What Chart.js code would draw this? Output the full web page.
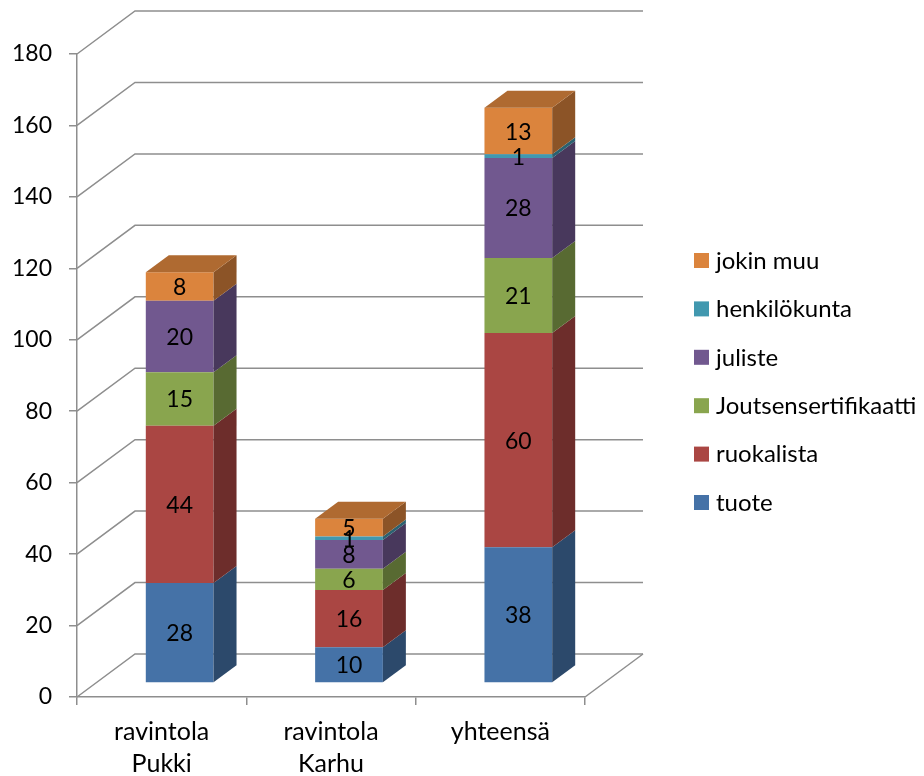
<!DOCTYPE html>
<html>
<head>
<meta charset="utf-8">
<script src="https://cdn.jsdelivr.net/npm/chart.js@4.4.0/dist/chart.umd.min.js"></script>
<style>
  html, body { margin: 0; padding: 0; background: #fff; }
  #wrap { width: 924px; height: 776px; }
</style>
</head>
<body>
<div id="wrap"><canvas id="barChart"></canvas></div>
<script>
const categories = [['ravintola', 'Pukki'], ['ravintola', 'Karhu'], 'yhteensä'];
const seriesNames = ['tuote', 'ruokalista', 'Joutsensertifikaatti', 'juliste', 'henkilökunta', 'jokin muu'];
const tuote = [28, 10, 38];
const ruokalista = [44, 16, 60];
const joutsen = [15, 6, 21];
const juliste = [20, 8, 28];
const henkilokunta = [0, 1, 1];
const jokinMuu = [8, 5, 13];
const yMin = 0, yMax = 180, yStep = 20;

const colors = ['#4572A7', '#AA4643', '#89A54E', '#71588F', '#4198AF', '#DB843D'];
const gridColor = '#8e8e8e';

// 3d geometry
const WALL = { dx: 58, dy: -43 };
const SHIFT = { dx: 18, dy: -14 };
const SIDE = { dx: 23, dy: -17 };

function shade(hex, f) {
    const n = parseInt(hex.slice(1), 16);
    const r = Math.round(((n >> 16) & 255) * f);
    const g = Math.round(((n >> 8) & 255) * f);
    const b = Math.round((n & 255) * f);
    return `rgb(${r}, ${g}, ${b})`;
}

function poly(ctx, pts, fill) {
    ctx.beginPath();
    ctx.moveTo(pts[0][0], pts[0][1]);
    for (let i = 1; i < pts.length; i++) ctx.lineTo(pts[i][0], pts[i][1]);
    ctx.closePath();
    ctx.fillStyle = fill;
    ctx.fill();
}

const threeD = {
    id: 'threeD',
    beforeDatasetsDraw(chart) {
        const { ctx, chartArea: a, scales: { y } } = chart;
        ctx.save();
        ctx.strokeStyle = gridColor;
        ctx.lineWidth = 1.5;
        y.ticks.forEach(t => {
            const py = y.getPixelForValue(t.value);
            ctx.beginPath();
            ctx.moveTo(a.left, py);
            ctx.lineTo(a.left + WALL.dx, py + WALL.dy);
            ctx.lineTo(a.right + WALL.dx, py + WALL.dy);
            ctx.stroke();
        });
        // floor right edge
        ctx.beginPath();
        ctx.moveTo(a.right, a.bottom);
        ctx.lineTo(a.right + WALL.dx, a.bottom + WALL.dy);
        ctx.stroke();
        ctx.restore();

        ctx.save();
        ctx.translate(SHIFT.dx, SHIFT.dy);
    },
    afterDatasetsDraw(chart) {
        const ctx = chart.ctx;
        const n = chart.data.labels.length;
        const dsCount = chart.data.datasets.length;
        for (let j = 0; j < n; j++) {
            let topIdx = -1;
            for (let i = 0; i < dsCount; i++) {
                if (chart.data.datasets[i].data[j] > 0) topIdx = i;
            }
            for (let i = 0; i < dsCount; i++) {
                const v = chart.data.datasets[i].data[j];
                if (!v) continue;
                const el = chart.getDatasetMeta(i).data[j];
                const { x, y, base, width } = el.getProps(['x', 'y', 'base', 'width'], true);
                const left = x - width / 2, right = x + width / 2;
                const c = colors[i];
                poly(ctx, [[right, y], [right + SIDE.dx, y + SIDE.dy], [right + SIDE.dx, base + SIDE.dy], [right, base]], shade(c, 0.64));
                if (i === topIdx) {
                    poly(ctx, [[left, y], [left + SIDE.dx, y + SIDE.dy], [right + SIDE.dx, y + SIDE.dy], [right, y]], shade(c, 0.8));
                }
            }
        }
        // value labels
        ctx.fillStyle = '#000';
        ctx.font = '23px Lato';
        ctx.textAlign = 'center';
        ctx.textBaseline = 'middle';
        for (let i = 0; i < dsCount; i++) {
            chart.getDatasetMeta(i).data.forEach((el, j) => {
                const v = chart.data.datasets[i].data[j];
                if (!v) return;
                const { x, y, base } = el.getProps(['x', 'y', 'base'], true);
                ctx.fillText(String(v), x, (y + base) / 2 + 1);
            });
        }
        ctx.restore();
    },
    afterDraw(chart) {
        const ctx = chart.ctx;
        const items = chart.data.datasets.map((ds, i) => ({ label: ds.label, color: colors[i] })).reverse();
        ctx.save();
        ctx.font = '24px Lato';
        ctx.textBaseline = 'middle';
        ctx.textAlign = 'left';
        items.forEach((it, k) => {
            const cy = 260 + k * 48.4;
            ctx.fillStyle = it.color;
            ctx.fillRect(694, cy - 7, 15, 15);
            ctx.fillStyle = '#000';
            ctx.fillText(it.label, 716, cy + 1);
        });
        ctx.restore();
    }
};

Chart.defaults.font.family = 'Lato';
Chart.defaults.color = '#000';

const seriesData = [tuote, ruokalista, joutsen, juliste, henkilokunta, jokinMuu];

new Chart(document.getElementById('barChart'), {
    type: 'bar',
    data: {
        labels: categories,
        datasets: seriesNames.map((name, i) => ({
            label: name,
            data: seriesData[i],
            backgroundColor: colors[i],
            borderWidth: 0,
            barPercentage: 0.8,
            categoryPercentage: 0.5
        }))
    },
    options: {
        responsive: true,
        maintainAspectRatio: false,
        animation: false,
        events: [],
        layout: { padding: { top: 54, right: 339, bottom: 0, left: 0 } },
        plugins: {
            legend: { display: false },
            tooltip: { enabled: false }
        },
        scales: {
            x: {
                stacked: true,
                afterFit: s => { s.height = 79; },
                grid: { drawOnChartArea: false, tickLength: 8, color: gridColor, lineWidth: 1.5 },
                border: { color: gridColor, width: 1.5 },
                ticks: { font: { size: 25, lineHeight: 1.28 }, padding: 11 }
            },
            y: {
                stacked: true,
                min: yMin,
                max: yMax,
                afterFit: s => { s.width = 77; },
                grid: { drawOnChartArea: false, tickLength: 8, color: gridColor, lineWidth: 1.5 },
                border: { color: gridColor, width: 1.5 },
                ticks: { stepSize: yStep, font: { size: 23 }, padding: 17 }
            }
        }
    },
    plugins: [threeD]
});
</script>
</body>
</html>
